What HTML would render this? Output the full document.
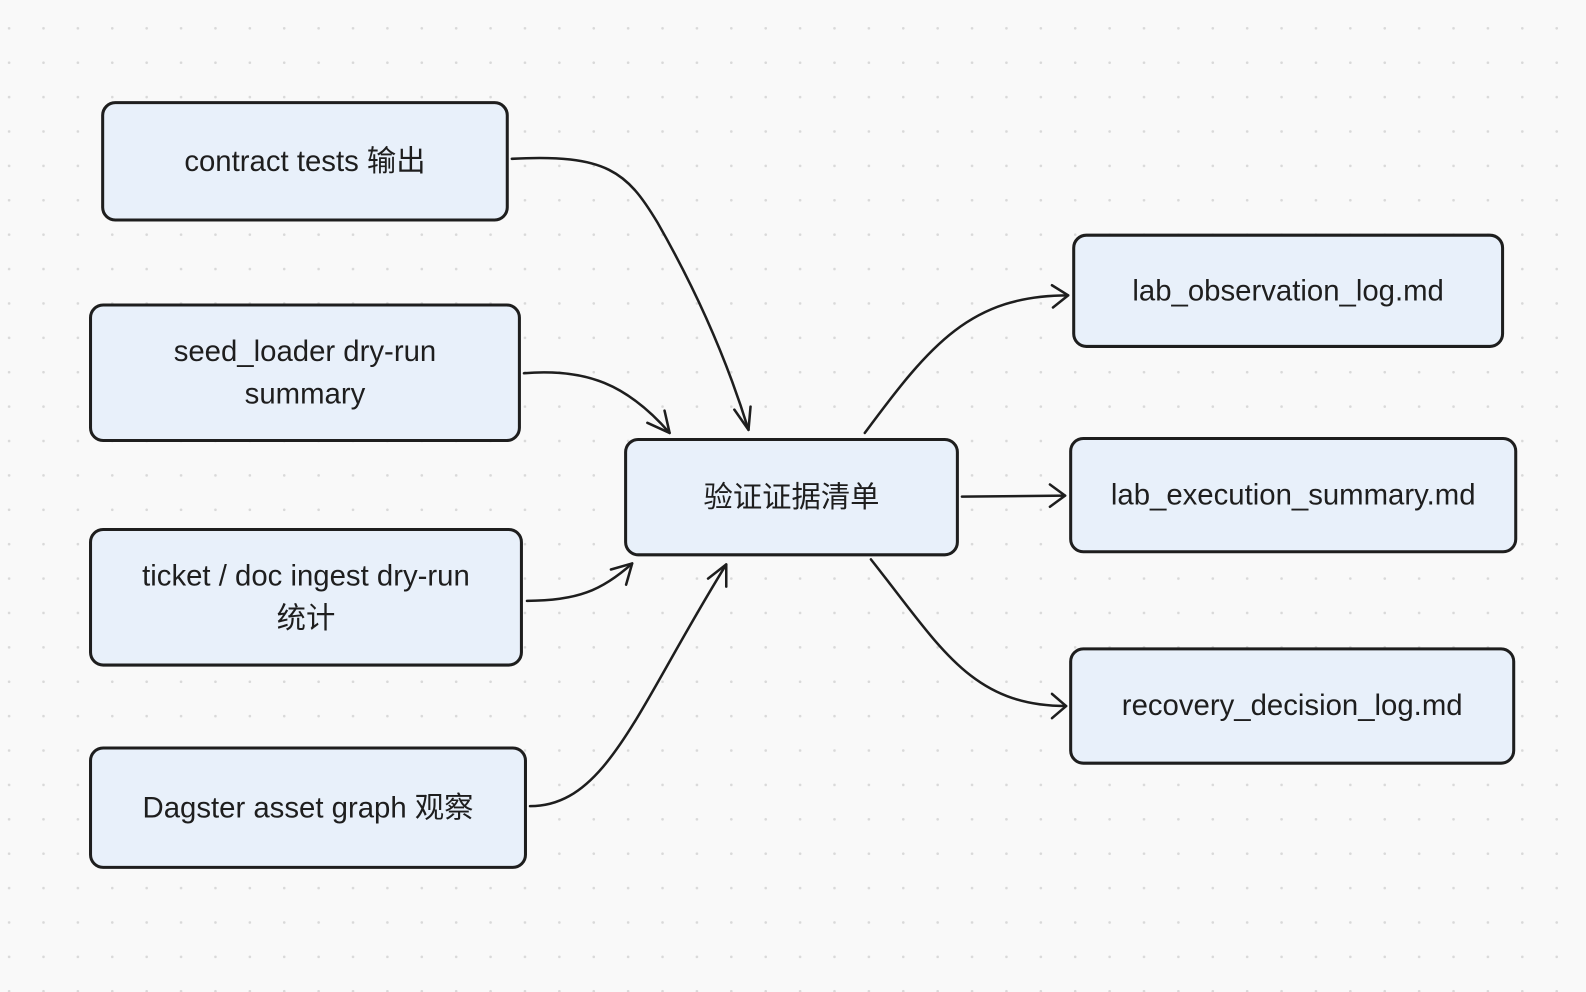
<!DOCTYPE html>
<html><head><meta charset="utf-8"><style>
html,body{margin:0;padding:0;}
body{width:1586px;height:992px;background:#f9f9f9;overflow:hidden;}
#c{position:absolute;left:0;top:0;width:1568px;height:981px;transform:scale(1.0115);transform-origin:0 0;
background-image:radial-gradient(circle,#d9d9d9 1.1px,transparent 1.5px);
background-size:34px 34px;background-position:-8px 11px;
font-family:"Liberation Sans","Noto Sans CJK SC",sans-serif;}
.b{position:absolute;box-sizing:border-box;background:#e8f0fa;border:3px solid #1e1e1e;border-radius:14px;
display:flex;align-items:center;justify-content:center;text-align:center;font-size:29px;color:#1e1e1e;line-height:42px;}
svg{position:absolute;left:0;top:0;}
</style></head><body><div id="c">
<div class="b" style="left:100px;top:100px;width:403px;height:119px">contract tests 输出</div>
<div class="b" style="left:88px;top:300px;width:427px;height:137px">seed_loader dry-run<br>summary</div>
<div class="b" style="left:88px;top:522px;width:429px;height:137px">ticket / doc ingest dry-run<br>统计</div>
<div class="b" style="left:88px;top:738px;width:433px;height:121px">Dagster asset graph 观察</div>
<div class="b" style="left:617px;top:433px;width:331px;height:117px">验证证据清单</div>
<div class="b" style="left:1060px;top:231px;width:427px;height:113px">lab_observation_log.md</div>
<div class="b" style="left:1057px;top:432px;width:443px;height:115px">lab_execution_summary.md</div>
<div class="b" style="left:1057px;top:640px;width:441px;height:116px">recovery_decision_log.md</div>
<svg width="1568" height="981" fill="none" stroke="#1e1e1e" stroke-width="2.5" stroke-linecap="round" stroke-linejoin="round">
<path d="M506 157 C600 152 620 170 650 220 C690 290 720 360 740 425"/>
<path d="M726 405 L740 425 L742 402"/>
<path d="M518 369 C580 364 620 380 662 428"/>
<path d="M640 418 L662 428 L657 406"/>
<path d="M521 594 C570 594 595 584 625 557"/>
<path d="M604 563 L625 557 L619 578"/>
<path d="M524 797 C600 797 630 700 718 558"/>
<path d="M700 572 L718 558 L718 580"/>
<path d="M855 428 C920 340 960 292 1056 292"/>
<path d="M1040 282 L1056 292 L1041 304"/>
<path d="M951 491 L1053 490"/>
<path d="M1038 479 L1053 490 L1038 501"/>
<path d="M861 553 C930 640 960 698 1054 698"/>
<path d="M1040 686 L1054 698 L1040 710"/>
</svg>
</div></body></html>
